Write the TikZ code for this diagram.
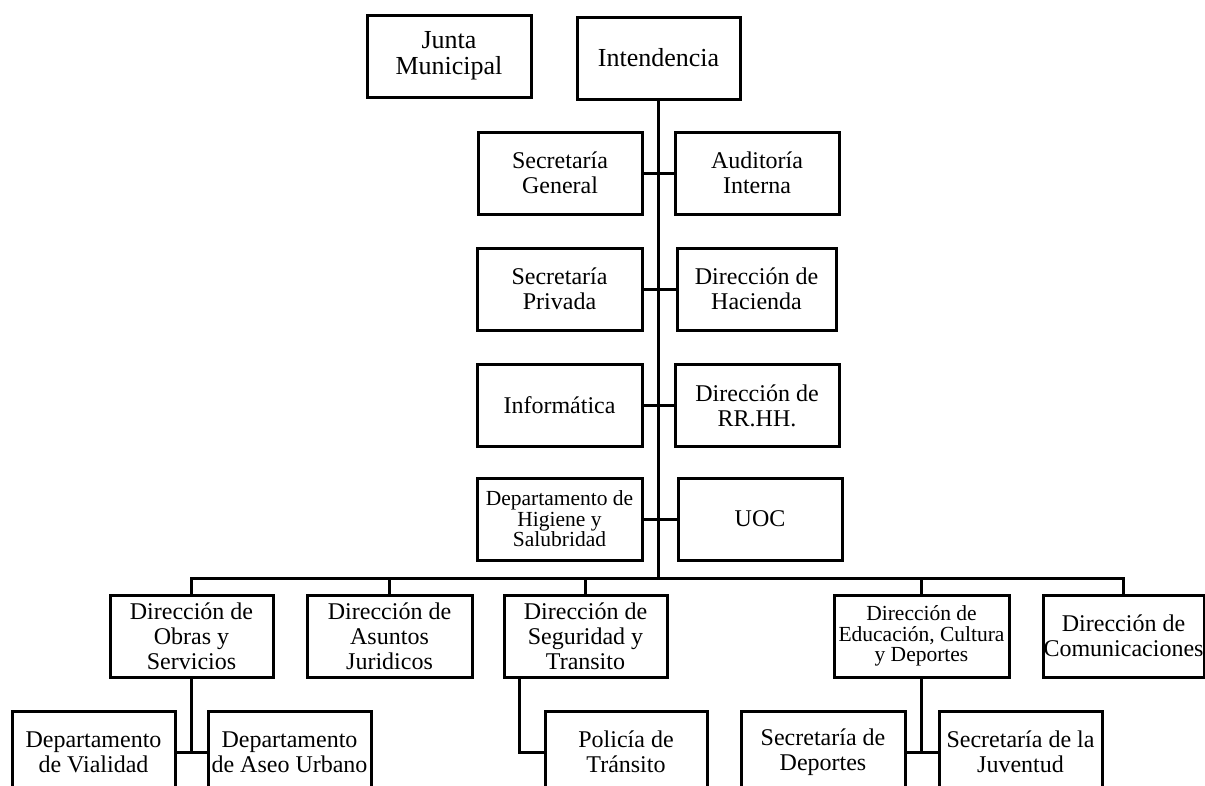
\documentclass[tikz,border=0pt]{standalone}
\usepackage{fontspec}
\setmainfont{Liberation Serif}
\begin{document}
\begin{tikzpicture}[x=1pt,y=-1pt,
  box/.style={draw,line width=3pt,rectangle,inner sep=0pt,minimum height=82pt,align=center,font=\fontsize{24}{25}\selectfont},
  bigtxt/.style={font=\fontsize{26}{26}\selectfont},
  smalltxt/.style={font=\fontsize{21.5}{20.5}\selectfont},
  conn/.style={line width=3pt}]
\useasboundingbox (0,0) rectangle (1205,785);
\clip (0,0) rectangle (1205,785);
% top
\node[box,bigtxt,minimum width=164pt] (jun) at (449,56) {Junta\\Municipal};
\node[box,bigtxt,minimum width=163pt] (int) at (658.5,58) {Intendencia};
% side pairs
\node[box,minimum width=164pt] (sg) at (560,173) {Secretaría\\General};
\node[box,minimum width=164pt] (au) at (757,173) {Auditoría\\Interna};
\node[box,minimum width=165pt] (sp) at (559.5,289) {Secretaría\\Privada};
\node[box,minimum width=159pt] (ha) at (756.5,289) {Dirección de\\Hacienda};
\node[box,minimum width=165pt] (inf) at (559.5,405.5) {Informática};
\node[box,minimum width=164pt] (rh) at (757,405.5) {Dirección de\\RR.HH.};
\node[box,smalltxt,minimum width=165pt] (hig) at (559.5,519) {Departamento de\\Higiene y\\Salubridad};
\node[box,minimum width=164pt] (uoc) at (760,519) {UOC};
% directorates
\node[box,minimum width=163pt] (obr) at (191.5,636) {Dirección de\\Obras y\\Servicios};
\node[box,minimum width=165pt] (asu) at (389.5,636) {Dirección de\\Asuntos\\Juridicos};
\node[box,minimum width=163pt] (seg) at (585.5,636) {Dirección de\\Seguridad y\\Transito};
\node[box,smalltxt,minimum width=175pt] (edu) at (921.5,636) {Dirección de\\Educación, Cultura\\y Deportes};
\node[box,minimum width=161pt] (com) at (1123.5,636) {Dirección de\\Comunicaciones};
% bottom row
\node[box,minimum width=163pt] (via) at (93.5,752) {Departamento\\de Vialidad};
\node[box,minimum width=163pt] (ase) at (289.5,752) {Departamento\\de Aseo Urbano};
\node[box,minimum width=162pt] (pol) at (626,752) {Policía de\\Tránsito};
\node[box,minimum width=164pt] (dep) at (823,752) {Secretaría de\\Deportes};
\node[box,minimum width=163pt] (juv) at (1020.5,752) {Secretaría de la\\Juventud};
% connectors
\coordinate (bus) at (0,578);
\draw[conn] (int.south) -- (int.south |- bus);
\draw[conn] (sg.east) -- (au.west);
\draw[conn] (sp.east) -- (ha.west);
\draw[conn] (inf.east) -- (rh.west);
\draw[conn] (hig.east) -- (uoc.west);
\draw[conn] (obr.north) -- (obr.north |- bus) -- (com.north |- bus) -- (com.north);
\draw[conn] (asu.north) -- (asu.north |- bus);
\draw[conn] (seg.north) -- (seg.north |- bus);
\draw[conn] (edu.north) -- (edu.north |- bus);
\draw[conn] (obr.south) -- (obr.south |- via.east);
\draw[conn] (via.east) -- (ase.west);
\draw[conn] (edu.south) -- (edu.south |- dep.east);
\draw[conn] (dep.east) -- (juv.west);
\draw[conn] ([xshift=17pt]seg.south west) |- (pol.west);
\end{tikzpicture}
\end{document}
